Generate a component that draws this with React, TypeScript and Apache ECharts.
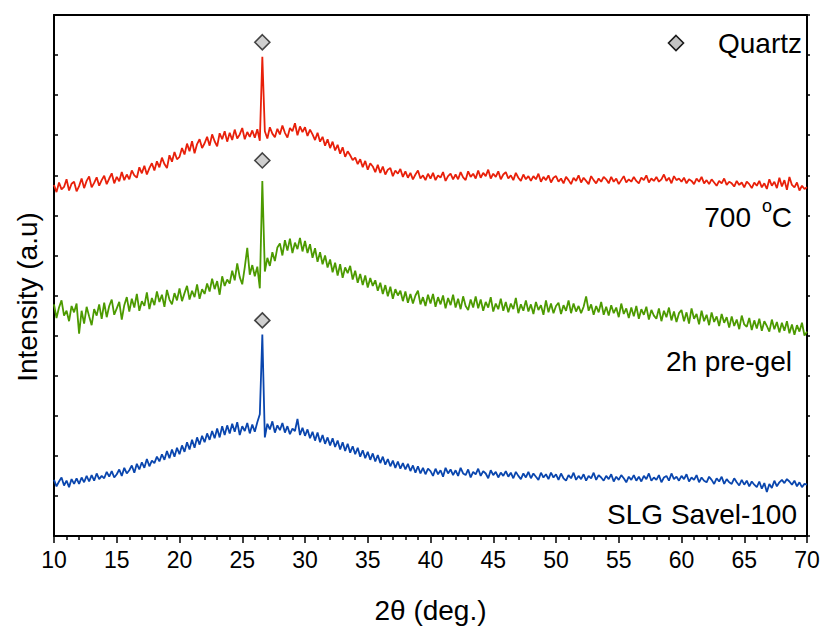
import React, { useEffect, useRef } from "react";
import * as echarts from "echarts";

// 2θ sampling grid of the diffractograms (10° to 70°, 0.2° step)
const THETA_START = 10;
const THETA_STEP = 0.2;

// 700 °C sample
const calcined700: number[] = [
  8.76, 8.58, 8.82, 8.65, 8.71, 8.90, 8.62, 8.79, 8.84, 8.60,
  8.73, 8.92, 8.68, 8.86, 8.97, 8.70, 8.81, 8.95, 8.74, 8.88,
  8.99, 8.78, 8.92, 9.05, 8.80, 8.96, 8.85, 9.08, 8.88, 9.02,
  8.90, 9.12, 9.00, 8.94, 9.20, 9.05, 9.24, 9.02, 9.18, 9.30,
  9.12, 9.35, 9.20, 9.44, 9.28, 9.18, 9.50, 9.34, 9.58, 9.40,
  9.46, 9.68, 9.52, 9.79, 9.60, 9.85, 9.55, 9.78, 9.90, 9.68,
  9.80, 9.96, 9.74, 10.02, 9.85, 9.72, 10.05, 9.90, 10.10, 9.84,
  10.06, 9.88, 10.14, 9.92, 10.02, 10.18, 9.90, 10.08, 9.96, 10.12,
  9.94, 10.15, 9.86, 11.96, 10.10, 9.92, 10.20, 10.04, 9.95, 10.16,
  10.02, 10.24, 10.06, 9.94, 10.18, 10.10, 10.30, 10.00, 10.22, 10.08,
  10.20, 9.98, 10.14, 10.02, 9.88, 10.06, 9.84, 9.96, 9.74, 9.90,
  9.68, 9.84, 9.62, 9.76, 9.54, 9.70, 9.46, 9.60, 9.50, 9.38,
  9.44, 9.28, 9.40, 9.20, 9.36, 9.14, 9.30, 9.22, 9.08, 9.26,
  9.06, 9.22, 9.02, 9.14, 9.18, 8.98, 9.12, 9.04, 9.16, 8.96,
  9.10, 8.94, 9.06, 8.90, 9.02, 9.12, 8.92, 9.00, 8.88, 9.04,
  8.92, 9.06, 8.88, 9.00, 8.94, 9.08, 8.86, 8.98, 9.04, 8.90,
  9.02, 8.90, 9.08, 8.95, 8.88, 9.10, 8.96, 9.04, 8.92, 9.12,
  8.94, 9.06, 8.98, 9.14, 8.92, 9.04, 8.96, 9.10, 8.90, 9.02,
  9.08, 8.92, 9.00, 8.88, 9.06, 8.94, 8.86, 9.02, 8.90, 8.98,
  8.86, 8.98, 8.90, 9.04, 8.84, 8.96, 8.88, 9.00, 8.82, 8.94,
  8.98, 8.84, 8.92, 8.80, 8.96, 8.88, 8.78, 8.94, 8.86, 9.00,
  8.82, 8.94, 8.86, 8.78, 8.98, 8.88, 8.80, 8.92, 8.84, 8.96,
  8.90, 8.80, 8.96, 8.84, 8.92, 8.78, 8.88, 8.98, 8.82, 8.90,
  8.84, 8.96, 8.86, 8.80, 8.94, 8.88, 9.00, 8.82, 8.92, 8.86,
  8.96, 8.84, 8.90, 9.02, 8.86, 8.94, 8.80, 8.98, 8.88, 8.92,
  8.84, 8.94, 8.80, 8.90, 8.86, 8.78, 8.92, 8.84, 8.96, 8.80,
  8.88, 8.78, 8.90, 8.82, 8.74, 8.86, 8.80, 8.92, 8.76, 8.84,
  8.80, 8.72, 8.86, 8.76, 8.82, 8.70, 8.84, 8.78, 8.68, 8.82,
  8.74, 8.86, 8.70, 8.80, 8.66, 8.90, 8.74, 8.84, 8.68, 8.94,
  8.72, 8.88, 8.64, 8.96, 8.76, 8.70, 8.82, 8.62, 8.74, 8.66,
  8.70,
];

// 2h pre-gel sample
const preGel2h: number[] = [
  5.78, 5.44, 5.70, 5.88, 5.50, 5.62, 5.36, 5.74, 5.58, 5.80,
  5.05, 5.62, 5.30, 5.72, 5.48, 5.26, 5.66, 5.50, 5.78, 5.42,
  5.82, 5.46, 5.74, 5.90, 5.52, 5.68, 5.84, 5.40, 5.76, 5.96,
  5.60, 5.92, 5.70, 6.04, 5.62, 5.86, 5.74, 6.08, 5.66, 5.94,
  5.76, 6.10, 5.84, 6.02, 5.72, 6.14, 5.90, 5.78, 6.06, 5.88,
  6.18, 5.86, 6.06, 6.24, 5.90, 6.12, 5.96, 6.28, 5.92, 6.16,
  6.04, 6.30, 6.10, 6.42, 6.16, 6.36, 6.02, 6.48, 6.24, 6.40,
  6.30, 6.62, 6.38, 6.80, 6.46, 6.28, 6.70, 7.19, 6.52, 6.76,
  6.48, 6.72, 6.18, 8.86, 6.60, 6.94, 6.74, 7.08, 6.86, 7.20,
  7.30, 7.00, 7.38, 7.12, 7.42, 7.06, 7.32, 7.16, 7.44, 7.10,
  7.36, 7.06, 7.28, 6.94, 7.18, 6.84, 7.08, 6.78, 7.00, 6.70,
  6.90, 6.58, 6.82, 6.50, 6.78, 6.44, 6.70, 6.56, 6.74, 6.40,
  6.62, 6.32, 6.54, 6.26, 6.50, 6.20, 6.44, 6.24, 6.38, 6.12,
  6.32, 6.04, 6.26, 5.98, 6.22, 5.92, 6.16, 6.00, 6.12, 5.86,
  6.10, 5.82, 6.04, 5.80, 6.00, 6.12, 5.78, 5.96, 5.74, 6.02,
  5.80, 6.04, 5.72, 5.96, 5.78, 6.00, 5.68, 5.94, 5.76, 6.02,
  5.70, 5.92, 5.66, 5.98, 5.74, 5.64, 5.90, 5.70, 5.98, 5.68,
  5.90, 5.62, 5.84, 5.70, 5.96, 5.60, 5.80, 5.66, 5.92, 5.62,
  5.84, 5.58, 5.80, 5.66, 5.94, 5.56, 5.78, 5.62, 5.88, 5.60,
  5.78, 5.54, 5.84, 5.64, 5.76, 5.52, 5.88, 5.58, 5.80, 5.56,
  5.74, 5.82, 5.54, 5.76, 5.62, 5.88, 5.56, 5.80, 5.60, 5.74,
  5.56, 5.72, 5.98, 5.62, 5.78, 5.52, 5.74, 5.58, 5.84, 5.52,
  5.72, 5.50, 5.76, 5.56, 5.70, 5.46, 5.80, 5.54, 5.68, 5.44,
  5.70, 5.48, 5.74, 5.42, 5.66, 5.52, 5.72, 5.40, 5.64, 5.50,
  5.42, 5.68, 5.36, 5.62, 5.46, 5.70, 5.38, 5.60, 5.34, 5.56,
  5.64, 5.36, 5.58, 5.30, 5.68, 5.42, 5.54, 5.28, 5.62, 5.36,
  5.52, 5.26, 5.58, 5.34, 5.48, 5.24, 5.54, 5.32, 5.46, 5.20,
  5.48, 5.24, 5.40, 5.16, 5.50, 5.28, 5.22, 5.44, 5.14, 5.38,
  5.18, 5.42, 5.12, 5.36, 5.24, 5.10, 5.40, 5.16, 5.34, 5.08,
  5.32, 5.12, 5.36, 5.06, 5.28, 5.02, 5.26, 5.10, 5.32, 5.00,
  5.10,
];

// SLG Savel-100 precursor
const slgSavel100: number[] = [
  1.40, 1.24, 1.36, 1.46, 1.26, 1.38, 1.22, 1.42, 1.30, 1.44,
  1.30, 1.46, 1.34, 1.50, 1.36, 1.52, 1.38, 1.56, 1.42, 1.50,
  1.44, 1.60, 1.48, 1.62, 1.46, 1.54, 1.66, 1.50, 1.70, 1.56,
  1.64, 1.76, 1.58, 1.80, 1.66, 1.84, 1.70, 1.92, 1.74, 1.88,
  1.82, 1.98, 1.86, 2.04, 1.90, 2.12, 1.94, 2.16, 1.98, 2.20,
  2.04, 2.26, 2.10, 2.34, 2.16, 2.40, 2.20, 2.46, 2.28, 2.50,
  2.34, 2.56, 2.40, 2.62, 2.44, 2.68, 2.46, 2.74, 2.52, 2.76,
  2.56, 2.80, 2.60, 2.84, 2.52, 2.74, 2.62, 2.82, 2.56, 2.78,
  2.60, 2.84, 3.04, 5.03, 2.46, 2.80, 2.66, 2.86, 2.58, 2.76,
  2.64, 2.82, 2.58, 2.74, 2.54, 2.68, 2.62, 2.92, 2.52, 2.70,
  2.50, 2.66, 2.44, 2.60, 2.38, 2.58, 2.34, 2.52, 2.30, 2.46,
  2.26, 2.44, 2.22, 2.38, 2.16, 2.34, 2.12, 2.30, 2.08, 2.24,
  2.04, 2.20, 1.98, 2.14, 1.94, 2.10, 1.90, 2.06, 1.86, 2.02,
  1.82, 1.98, 1.78, 1.92, 1.74, 1.88, 1.70, 1.86, 1.68, 1.82,
  1.66, 1.80, 1.62, 1.76, 1.58, 1.74, 1.56, 1.70, 1.54, 1.68,
  1.62, 1.50, 1.68, 1.54, 1.64, 1.48, 1.70, 1.56, 1.66, 1.52,
  1.64, 1.50, 1.70, 1.56, 1.52, 1.66, 1.46, 1.60, 1.54, 1.68,
  1.50, 1.62, 1.56, 1.44, 1.64, 1.52, 1.60, 1.46, 1.58, 1.50,
  1.62, 1.48, 1.58, 1.44, 1.60, 1.50, 1.42, 1.56, 1.46, 1.60,
  1.44, 1.56, 1.48, 1.40, 1.58, 1.46, 1.54, 1.42, 1.58, 1.46,
  1.54, 1.40, 1.56, 1.44, 1.38, 1.52, 1.44, 1.58, 1.40, 1.50,
  1.42, 1.54, 1.38, 1.50, 1.44, 1.58, 1.40, 1.52, 1.46, 1.38,
  1.50, 1.42, 1.54, 1.36, 1.48, 1.40, 1.52, 1.44, 1.34, 1.48,
  1.40, 1.52, 1.38, 1.48, 1.36, 1.50, 1.42, 1.56, 1.38, 1.46,
  1.40, 1.52, 1.34, 1.46, 1.50, 1.38, 1.56, 1.42, 1.48, 1.38,
  1.50, 1.42, 1.54, 1.36, 1.46, 1.40, 1.52, 1.34, 1.46, 1.38,
  1.34, 1.48, 1.40, 1.30, 1.44, 1.36, 1.48, 1.30, 1.42, 1.34,
  1.30, 1.44, 1.34, 1.26, 1.40, 1.28, 1.38, 1.24, 1.36, 1.28,
  1.22, 1.36, 1.18, 1.32, 1.10, 1.30, 1.20, 1.38, 1.24, 1.34,
  1.40, 1.32, 1.42, 1.36, 1.28, 1.38, 1.24, 1.34, 1.22, 1.30,
  1.28,
];

// Quartz reflection and the height of its marker above each pattern
const QUARTZ_2THETA = 26.6;
const quartzMarkerHeights: number[] = [12.32, 9.37, 5.38];

// Sample labels
const sampleLabels = ["700", "2h pre-gel", "SLG Savel-100"];

const FONT = "'Liberation Sans', Arial, Helvetica, sans-serif";

const toPairs = (vals: number[]) =>
  vals.map((v, i) => [Number((THETA_START + i * THETA_STEP).toFixed(1)), v]);

export default function App() {
  const ref = useRef<HTMLDivElement>(null);

  useEffect(() => {
    if (!ref.current) return;
    const chart = echarts.init(ref.current, null, { renderer: "svg" });

    const lineSeries = (name: string, vals: number[], color: string) => ({
      name,
      type: "line",
      data: toPairs(vals),
      showSymbol: false,
      symbol: "none",
      lineStyle: { color, width: 1.8 },
      z: 2,
    });

    const axisBase = {
      type: "value",
      splitLine: { show: false },
      minorSplitLine: { show: false },
      axisLine: { show: true, onZero: false, lineStyle: { color: "#000", width: 2 } },
    };

    chart.setOption({
      animation: false,
      backgroundColor: "#fff",
      grid: { left: 54, right: 16, top: 15, bottom: 87, containLabel: false },
      xAxis: [
        {
          ...axisBase,
          position: "bottom",
          min: 10,
          max: 70,
          interval: 5,
          axisTick: { show: true, inside: false, length: 7, lineStyle: { color: "#000", width: 1.5 } },
          minorTick: { show: true, splitNumber: 5, length: 4, lineStyle: { color: "#000", width: 1.5 } },
          axisLabel: { show: true, color: "#000", fontSize: 23, fontFamily: FONT, margin: 12 },
          name: "2θ (deg.)",
          nameLocation: "middle",
          nameGap: 60,
          nameTextStyle: { color: "#000", fontSize: 28, fontFamily: FONT },
        },
        {
          ...axisBase,
          position: "top",
          min: 10,
          max: 70,
          axisTick: { show: false },
          axisLabel: { show: false },
        },
      ],
      yAxis: [
        {
          ...axisBase,
          position: "left",
          min: 0,
          max: 13,
          interval: 1,
          axisTick: { show: true, inside: true, length: 4, lineStyle: { color: "#000", width: 1.5 } },
          axisLabel: { show: false },
        },
        {
          ...axisBase,
          position: "right",
          min: 0,
          max: 13,
          interval: 1,
          axisTick: { show: true, inside: false, length: 3, lineStyle: { color: "#000", width: 1.5 } },
          axisLabel: { show: false },
        },
      ],
      series: [
        lineSeries(sampleLabels[0], calcined700, "#e8200a"),
        lineSeries(sampleLabels[1], preGel2h, "#4c9a00"),
        lineSeries(sampleLabels[2], slgSavel100, "#0a46ae"),
        {
          name: "Quartz",
          type: "scatter",
          data: quartzMarkerHeights.map((h) => [QUARTZ_2THETA, h]),
          symbol: "diamond",
          symbolSize: 15,
          itemStyle: { color: "#c3c3c3", borderColor: "#1a1a1a", borderWidth: 1.6 },
          z: 3,
        },
      ],
      graphic: [
        {
          type: "text",
          x: 27,
          y: 297,
          rotation: Math.PI / 2,
          style: {
            text: "Intensity (a.u)",
            fill: "#000",
            font: `28px ${FONT}`,
            align: "center",
            verticalAlign: "middle",
          },
        },
        {
          type: "polygon",
          shape: { points: [[676, 35.5], [683.5, 43], [676, 50.5], [668.5, 43]] },
          style: { fill: "#c3c3c3", stroke: "#1a1a1a", lineWidth: 1.6 },
        },
        {
          type: "text",
          x: 802,
          y: 43,
          style: { text: "Quartz", fill: "#000", font: `28px ${FONT}`, align: "right", verticalAlign: "middle" },
        },
        {
          type: "text",
          x: 751,
          y: 217,
          style: { text: sampleLabels[0], fill: "#000", font: `28px ${FONT}`, align: "right", verticalAlign: "middle" },
        },
        {
          type: "text",
          x: 767,
          y: 206,
          style: { text: "o", fill: "#000", font: `18px ${FONT}`, align: "center", verticalAlign: "middle" },
        },
        {
          type: "text",
          x: 792,
          y: 217,
          style: { text: "C", fill: "#000", font: `28px ${FONT}`, align: "right", verticalAlign: "middle" },
        },
        {
          type: "text",
          x: 792,
          y: 361,
          style: { text: sampleLabels[1], fill: "#000", font: `28px ${FONT}`, align: "right", verticalAlign: "middle" },
        },
        {
          type: "text",
          x: 797,
          y: 514,
          style: { text: sampleLabels[2], fill: "#000", font: `28px ${FONT}`, align: "right", verticalAlign: "middle" },
        },
      ],
    });

    return () => chart.dispose();
  }, []);

  return (
    <div
      ref={ref}
      style={{ position: "absolute", left: 0, top: 0, width: 823, height: 629, background: "#fff" }}
    />
  );
}
